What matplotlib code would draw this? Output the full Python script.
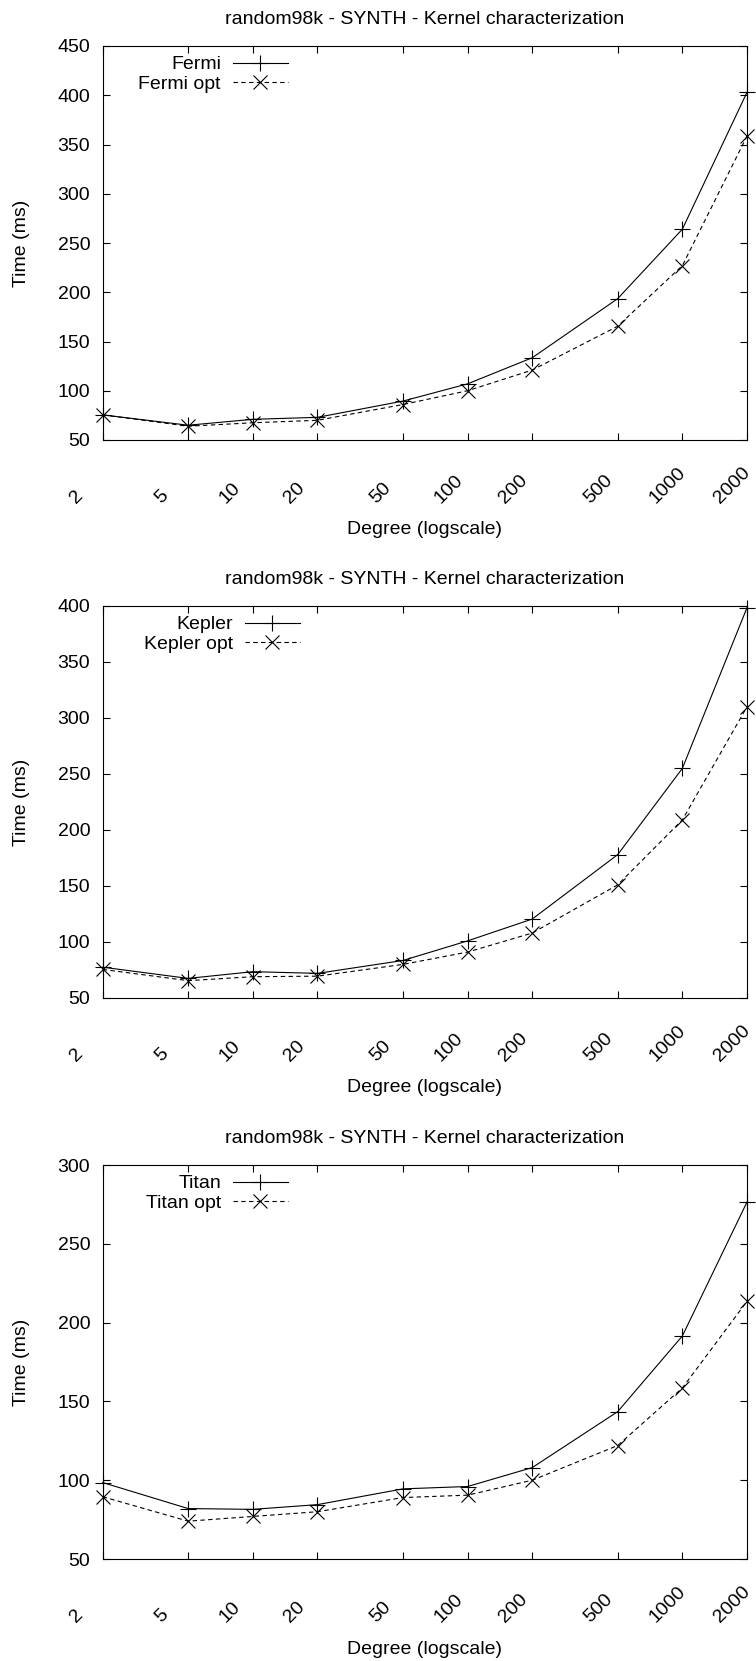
import matplotlib
matplotlib.use("Agg")
import matplotlib.pyplot as plt
import matplotlib.transforms as mtransforms

degrees = [2, 5, 10, 20, 50, 100, 200, 500, 1000, 2000]
degree_labels = ['2', '5', '10', '20', '50', '100', '200', '500', '1000', '2000']

fermi = [75.5, 65, 71, 73, 89.5, 107, 133.5, 193.5, 264, 403]
fermi_opt = [75.5, 64, 67.5, 70, 86, 100, 121, 165.5, 227, 358.5]
kepler = [77.5, 67.5, 73.5, 72, 83.5, 101, 120.5, 178, 255, 398.5]
kepler_opt = [75.5, 65.5, 69, 69.5, 80, 91, 108, 151, 209, 310]
titan = [98.5, 82, 81.5, 84.5, 94.5, 96, 108, 143.5, 191.5, 276.5]
titan_opt = [89.5, 74, 77, 80, 89, 90.5, 100, 122, 158.5, 213.5]

title = 'random98k - SYNTH - Kernel characterization'

plt.rcParams['font.family'] = ['Liberation Sans', 'DejaVu Sans']

W, H = 756, 1661
fs = 14
fig = plt.figure(figsize=(W / 100, H / 100), dpi=100)

# name, series, series opt, y max, axes top px, axes bottom px, legend line end px
panels = [
    ('Fermi', fermi, fermi_opt, 450, 46, 440, 288),
    ('Kepler', kepler, kepler_opt, 400, 606, 998, 300),
    ('Titan', titan, titan_opt, 300, 1165, 1559, 288),
]

x0, x1 = 102.7, 747.0

for name, base, opt, ymax, top, bottom, leg_x in panels:
    ax = fig.add_axes([x0 / W, 1 - bottom / H, (x1 - x0) / W, (bottom - top) / H])
    ax.plot(degrees, base, color='black', lw=0.8, marker='+', ms=11, mew=0.8,
            clip_on=False, label=name)
    ax.plot(degrees, opt, color='black', lw=0.8, ls=(0, (4, 3)), marker='x', ms=10,
            mew=0.8, clip_on=False, label=name + ' opt')

    ax.set_xscale('log')
    ax.set_xlim(2, 2000)
    ax.set_ylim(50, ymax)
    ax.set_xticks(degrees, labels=degree_labels)
    ax.minorticks_off()
    ax.set_yticks(range(50, ymax + 1, 50))

    for s in ax.spines.values():
        s.set_linewidth(0.8)
    ax.tick_params(direction='in', top=True, right=True, length=5, width=0.8,
                   labelsize=fs)
    ax.tick_params(axis='x', pad=46)
    ax.tick_params(axis='y', pad=9)

    offset = mtransforms.ScaledTranslation(-0.27, 0, fig.dpi_scale_trans)
    for lab in ax.get_xticklabels():
        lab.set_rotation(45)
        lab.set_ha('left')
        lab.set_va('baseline')
        lab.set_rotation_mode('anchor')
        lab.set_transform(lab.get_transform() + offset)

    ax.set_title(title, fontsize=fs, pad=16)
    ax.set_xlabel('Degree (logscale)', fontsize=fs)
    ax.xaxis.set_label_coords(0.5, -90 / (bottom - top))
    ax.xaxis.label.set_va('center')
    ax.set_ylabel('Time (ms)', fontsize=fs)
    ax.yaxis.set_label_coords((22 - x0) / (x1 - x0), 0.5)
    ax.yaxis.label.set_va('center')

    ax.legend(loc='upper right', bbox_to_anchor=((leg_x - x0) / (x1 - x0), 0.975),
              frameon=False, markerfirst=False, borderaxespad=0, borderpad=0,
              handlelength=2.85, handletextpad=0.6, labelspacing=0.1, fontsize=fs)

fig.savefig('out.png', dpi=100)
